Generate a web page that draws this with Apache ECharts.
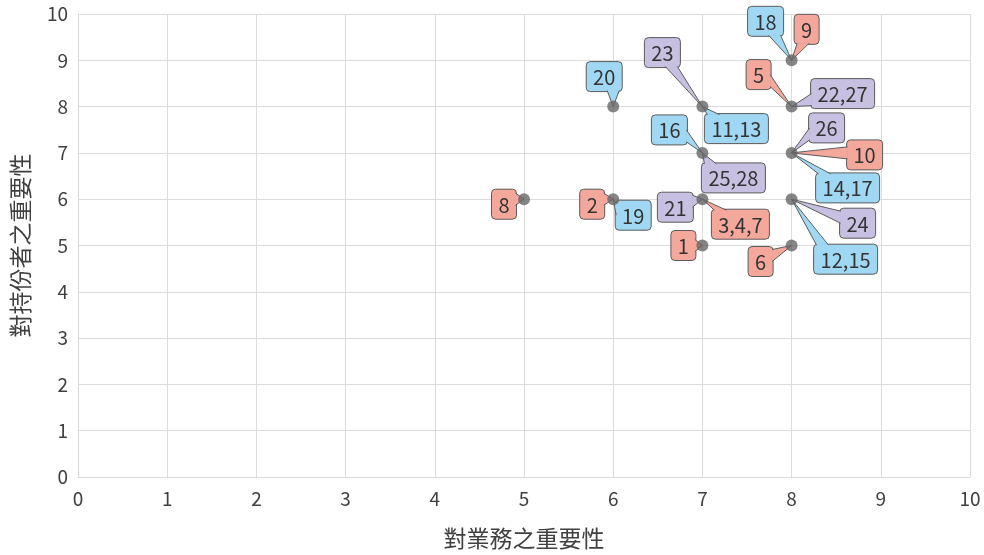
<!DOCTYPE html>
<html>
<head>
<meta charset="utf-8">
<script src="https://cdn.jsdelivr.net/npm/echarts@6/dist/echarts.min.js"></script>
<style>
  html, body { margin: 0; padding: 0; background: #fff; }
  #chart { width: 984px; height: 555px; }
</style>
</head>
<body>
<div id="chart"></div>
<script>
// 各議題點位 (業務重要性, 持份者重要性)
const pointX = [5, 6, 6, 7, 7, 7, 7, 8, 8, 8, 8, 8];
const pointY = [6, 6, 8, 8, 7, 6, 5, 9, 8, 7, 6, 5];

// 標註：所屬點、文字、類別
const calloutPoint = [0, 1, 1, 2, 3, 3, 4, 4, 5, 5, 6, 7, 7, 8, 8, 9, 9, 9, 10, 10, 11];
const calloutText = ['8', '2', '19', '20', '23', '11,13', '16', '25,28', '21', '3,4,7', '1',
  '18', '9', '5', '22,27', '26', '10', '14,17', '24', '12,15', '6'];
const calloutGroup = [0, 0, 1, 1, 2, 1, 1, 2, 2, 0, 0, 1, 0, 0, 2, 2, 0, 1, 2, 1, 0];

// 標註框相對點位的偏移 (px)
const calloutOffset = [[-20, 5], [-21, 5], [20, 16], [-9, -30], [-40, -54], [34, 22], [-33, -23],
  [31, 25], [-27, 8], [38, 25], [-19, 0], [-26, -39], [15, -31], [-33, -32], [51, -13],
  [35, -25], [73, 2], [56, 35], [66, 24], [54, 60], [-31, 16]];

const groupColors = ['#f4a89c', '#a0d8f3', '#c8c0e0'];
const borderColor = '#5b5b5b';
const fontName = '"Noto Sans CJK TC", "Noto Sans", sans-serif';
const labelFont = '20px ' + fontName;

const measureCtx = document.createElement('canvas').getContext('2d');
measureCtx.font = labelFont;

function clamp(v, a, b) { return Math.max(a, Math.min(b, v)); }

let chart = echarts.init(document.getElementById('chart'));

let option = {
  animation: false,
  textStyle: { fontFamily: fontName },
  grid: { left: 78, right: 14, top: 14, bottom: 78, outerBoundsMode: 'none', containLabel: false },
  xAxis: {
    type: 'value', min: 0, max: 10, interval: 1,
    name: '對業務之重要性', nameLocation: 'middle', nameGap: 50,
    nameTextStyle: { fontSize: 23, color: '#404040' },
    axisLine: { show: true, lineStyle: { color: '#d9d9d9' } },
    axisTick: { show: false },
    axisLabel: { fontSize: 19, color: '#404040', margin: 12 },
    splitLine: { show: true, lineStyle: { color: '#dcdcdc' } }
  },
  yAxis: {
    type: 'value', min: 0, max: 10, interval: 1,
    name: '對持份者之重要性', nameLocation: 'middle', nameGap: 46,
    nameTextStyle: { fontSize: 23, color: '#404040' },
    axisLine: { show: true, lineStyle: { color: '#d9d9d9' } },
    axisTick: { show: false },
    axisLabel: { fontSize: 19, color: '#404040', margin: 10 },
    splitLine: { show: true, lineStyle: { color: '#dcdcdc' } }
  },
  series: [
    {
      type: 'custom',
      z: 3,
      data: calloutPoint.map((p, i) => [pointX[p], pointY[p], i]),
      renderItem: (params, api) => {
        let i = api.value(2);
        let tip = api.coord([api.value(0), api.value(1)]);
        let text = calloutText[i];
        let color = groupColors[calloutGroup[i]];
        let w = Math.round(measureCtx.measureText(text).width) + 14;
        let h = 30;
        let cx = tip[0] + calloutOffset[i][0];
        let cy = tip[1] + calloutOffset[i][1];
        let l = cx - w / 2, r = cx + w / 2, t = cy - h / 2, b = cy + h / 2;
        let dx = tip[0] - cx, dy = tip[1] - cy;
        let b1, b2;
        let hw = 6;
        if (Math.abs(dx) / (w / 2) > Math.abs(dy) / (h / 2)) {
          let sx = dx > 0 ? r - 1 : l + 1;
          let my = clamp(tip[1], t + hw + 3, b - hw - 3);
          b1 = [sx, my - hw]; b2 = [sx, my + hw];
        } else {
          let sy = dy > 0 ? b - 1 : t + 1;
          let mx = clamp(tip[0], l + hw + 3, r - hw - 3);
          b1 = [mx - hw, sy]; b2 = [mx + hw, sy];
        }
        return {
          type: 'group',
          children: [
            {
              type: 'rect',
              shape: { x: l, y: t, width: w, height: h, r: 4 },
              style: { fill: color, stroke: borderColor, lineWidth: 1 }
            },
            {
              type: 'polygon',
              shape: { points: [tip, b1, b2] },
              style: { fill: color, stroke: null }
            },
            {
              type: 'polyline',
              shape: { points: [b1, tip, b2] },
              style: { fill: null, stroke: borderColor, lineWidth: 1 }
            },
            {
              type: 'text',
              style: {
                x: cx, y: cy + 1, text: text, font: labelFont,
                fill: '#333', align: 'center', verticalAlign: 'middle'
              }
            }
          ]
        };
      }
    },
    {
      type: 'scatter',
      z: 4,
      symbolSize: 12,
      itemStyle: { color: '#666666' },
      data: pointX.map((x, i) => [x, pointY[i]])
    }
  ]
};

option && chart.setOption(option);
</script>
</body>
</html>
